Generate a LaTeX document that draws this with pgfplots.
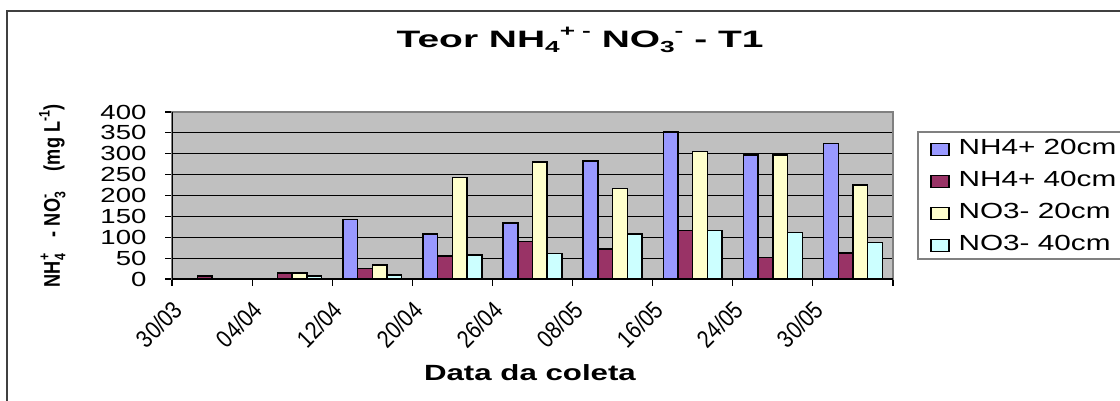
\documentclass[border=0pt]{standalone}
\usepackage{fontspec}
\setmainfont{Liberation Sans}
\newfontfamily\tickf[FakeStretch=1.35]{Liberation Sans}
\newfontfamily\legf[FakeStretch=1.36]{Liberation Sans}
\newfontfamily\titlef[FakeStretch=1.64]{Liberation Sans}
\newfontfamily\xlabf[FakeStretch=1.42]{Liberation Sans}
\newfontfamily\xtf[FakeStretch=0.85]{Liberation Sans}
\newfontfamily\ylabf[FakeStretch=0.8]{Liberation Sans}
\usepackage{pgfplots}
\usepackage{pgfplotstable}
\pgfplotsset{compat=1.18}
\definecolor{cA}{HTML}{9999FF}
\definecolor{cB}{HTML}{993366}
\definecolor{cC}{HTML}{FFFFCC}
\definecolor{cD}{HTML}{CCFFFF}
\definecolor{plotbg}{HTML}{C0C0C0}
\definecolor{frame}{HTML}{808080}
% #1 sup, #2 sub, #3 size
\newcommand\supsub[3]{\makebox[0pt][l]{\raisebox{0.85ex}{\fontsize{#3}{#3}\selectfont #1}}\raisebox{-0.45ex}{\fontsize{#3}{#3}\selectfont #2}}
\newcommand\up[2]{\raisebox{0.85ex}{\fontsize{#2}{#2}\selectfont #1}}
\newcommand\dn[2]{\raisebox{-0.45ex}{\fontsize{#2}{#2}\selectfont #1}}
\pgfplotstableread{
x a b c d
0 nan 7 nan nan
1 nan 14 14 7
2 142 25 33 10
3 108 55 243 57
4 134 90 280 61
5 283 72 217 108
6 352 116 305 116
7 297 51 297 112
8 324 62 225 87
}\datatable
\begin{document}
\begin{tikzpicture}
\path[use as bounding box] (0,0) rectangle (840pt,300pt);
\draw[black!75, line width=1.4pt] (5.25pt,-2pt) -- (5.25pt,291.75pt) -- (845pt,291.75pt);
\draw[frame, line width=1.1pt] (688.5pt,201pt) rectangle (900pt,105.75pt);
\begin{axis}[
  at={(129pt,90.75pt)}, anchor=south west,
  width=540.75pt, height=125.25pt, scale only axis,
  xmin=-0.5, xmax=8.5, ymin=0, ymax=400,
  axis background/.style={fill=plotbg},
  axis line style={draw=frame, line width=1.1pt},
  ytick={0,50,...,400},
  ymajorgrids, major grid style={black, line width=0.7pt},
  ytick pos=left, xtick pos=bottom,
  tick align=outside, major tick length=5pt,
  tick style={black, line width=0.8pt},
  xtick={-0.5,0.5,...,8.5},
  xticklabels={30/03,04/04,12/04,20/04,26/04,08/05,16/05,24/05,30/05},
  xticklabel style={font=\xtf\fontsize{18.5}{18.5}\selectfont, xshift=-0.5pt, yshift=-10pt, rotate=45, anchor=north east, inner sep=0pt},
  /pgf/number format/assume math mode=true,
  yticklabel style={font=\tickf\fontsize{15.3}{15.3}\selectfont, anchor=east, inner sep=0pt, xshift=-14pt},
  title={\titlef\bfseries\fontsize{17.8}{17.8}\selectfont Teor NH\dn{4}{12}\up{+}{12}\hspace{0.3em}\up{-}{12} NO\dn{3}{12}\up{-}{12} - T1},
  title style={at={(rel axis cs:0.566,1.341)}, anchor=base, inner sep=0pt},
  xlabel={\xlabf\bfseries\fontsize{16.5}{16.5}\selectfont Data da coleta},
  xlabel style={at={(rel axis cs:0.4965,-0.605)}, anchor=base, inner sep=0pt},
  ylabel={\ylabf\bfseries\fontsize{17}{17}\selectfont NH\supsub{+}{4}{11.5}\hspace{0.75em}- NO\supsub{-}{3}{11.5}\hspace{0.7em} (mg L\up{-1}{11.5})},
  ylabel style={at={(rel axis cs:-0.166,0.497)}, anchor=center, rotate=0, inner sep=0pt},
  ybar, bar width=0.1835,
  every axis plot/.append style={draw=black, line width=1.1pt},
  legend image code/.code={\draw[#1, line width=1pt] (0pt,-4.5pt) rectangle (13.5pt,4.5pt);},
  legend style={draw=none, fill=none, at={(rel axis cs:1.0513,0.838)}, anchor=north west,
    inner sep=0pt, row sep=9pt, column sep=6.75pt,
    nodes={inner sep=0pt, text height=11.5pt, text depth=3.5pt, font=\legf\fontsize{16.4}{16.4}\selectfont}},
  legend cell align=left,
]
\addplot[fill=cA, bar shift=-0.2752] table[x=x,y=a]{\datatable};
\addlegendentry{NH4+ 20cm}
\addplot[fill=cB, bar shift=-0.0917] table[x=x,y=b]{\datatable};
\addlegendentry{NH4+ 40cm}
\addplot[fill=cC, bar shift=0.0917] table[x=x,y=c]{\datatable};
\addlegendentry{NO3- 20cm}
\addplot[fill=cD, bar shift=0.2752] table[x=x,y=d]{\datatable};
\addlegendentry{NO3- 40cm}
\draw[black, line width=1.1pt] (rel axis cs:0,1) -- (rel axis cs:0,0) -- (rel axis cs:1,0);
\end{axis}
\end{tikzpicture}
\end{document}
